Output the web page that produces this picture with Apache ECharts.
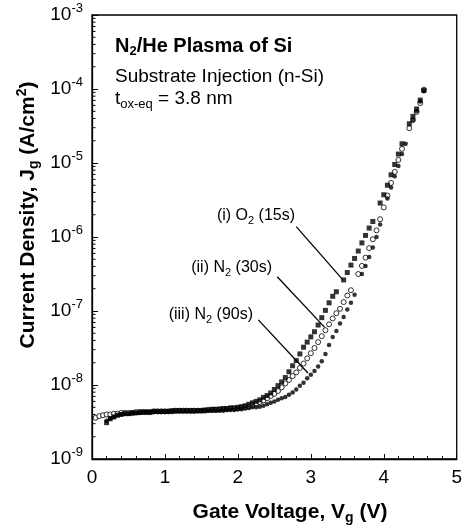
<!DOCTYPE html>
<html><head><meta charset="utf-8">
<script src="https://cdn.jsdelivr.net/npm/echarts@6/dist/echarts.min.js"></script>
<style>html,body{margin:0;padding:0;background:#fff}#c{width:465px;height:526px}</style>
</head><body><div id="c"></div>
<script>
// (i) O2 (15s) - filled squares
const o2V = [0.20,0.25,0.30,0.35,0.40,0.45,0.50,0.55,0.60,0.65,0.70,0.75,0.80,0.85,0.90,0.95,1.00,1.05,1.10,1.15,1.20,1.25,1.30,1.35,1.40,1.45,1.50,1.55,1.60,1.65,1.70,1.75,1.80,1.85,1.90,1.95,2.00,2.05,2.10,2.15,2.20,2.25,2.30,2.35,2.40,2.45,2.50,2.55,2.60,2.65,2.70,2.75,2.80,2.85,2.90,2.95,3.00,3.05,3.10,3.15,3.20,3.25,3.30,3.35,3.45,3.50,3.55,3.60,3.65,3.70,3.75,3.80,3.85,3.95,4.00,4.05,4.10,4.15,4.20,4.25,4.35,4.40,4.45,4.50,4.55];
const o2J = [3.1e-9,3.5e-9,3.7e-9,3.9e-9,4.0e-9,4.1e-9,4.1e-9,4.2e-9,4.2e-9,4.3e-9,4.3e-9,4.3e-9,4.3e-9,4.4e-9,4.4e-9,4.4e-9,4.4e-9,4.4e-9,4.5e-9,4.5e-9,4.5e-9,4.5e-9,4.5e-9,4.5e-9,4.5e-9,4.5e-9,4.5e-9,4.6e-9,4.6e-9,4.7e-9,4.7e-9,4.7e-9,4.8e-9,4.8e-9,4.9e-9,4.9e-9,5.0e-9,5.1e-9,5.25e-9,5.5e-9,5.75e-9,6.0e-9,6.3e-9,6.8e-9,7.2e-9,7.8e-9,8.7e-9,9.8e-9,1.10e-8,1.26e-8,1.51e-8,1.82e-8,2.14e-8,2.63e-8,3.24e-8,3.80e-8,4.47e-8,5.25e-8,6.46e-8,8.13e-8,1.02e-7,1.29e-7,1.58e-7,1.82e-7,2.63e-7,3.31e-7,4.17e-7,5.13e-7,6.46e-7,8.32e-7,1.05e-6,1.32e-6,1.62e-6,2.88e-6,3.72e-6,5.01e-6,6.92e-6,9.55e-6,1.32e-5,1.82e-5,3.39e-5,4.27e-5,5.37e-5,7.08e-5,9.55e-5];
// (ii) N2 (30s) - open circles
const n30V = [0.05,0.10,0.15,0.20,0.25,0.30,0.35,0.40,0.45,0.50,0.55,0.60,0.65,0.70,0.75,0.80,0.85,0.90,0.95,1.00,1.05,1.10,1.15,1.20,1.25,1.30,1.35,1.40,1.45,1.50,1.55,1.60,1.65,1.70,1.75,1.80,1.85,1.90,1.95,2.00,2.05,2.10,2.15,2.20,2.25,2.30,2.35,2.40,2.45,2.50,2.55,2.60,2.65,2.70,2.75,2.80,2.85,2.90,2.95,3.00,3.05,3.10,3.15,3.20,3.25,3.30,3.35,3.40,3.45,3.50,3.55,3.65,3.70,3.75,3.80,3.85,3.90,3.95,4.00,4.05,4.10,4.15,4.20,4.25,4.35,4.40,4.45,4.50,4.55];
const n30J = [3.6e-9,3.8e-9,3.9e-9,4.0e-9,4.0e-9,4.1e-9,4.1e-9,4.2e-9,4.2e-9,4.2e-9,4.2e-9,4.3e-9,4.3e-9,4.3e-9,4.3e-9,4.3e-9,4.4e-9,4.4e-9,4.4e-9,4.4e-9,4.4e-9,4.4e-9,4.5e-9,4.5e-9,4.5e-9,4.5e-9,4.5e-9,4.5e-9,4.5e-9,4.5e-9,4.5e-9,4.6e-9,4.6e-9,4.6e-9,4.7e-9,4.7e-9,4.7e-9,4.8e-9,4.8e-9,4.8e-9,4.9e-9,5.0e-9,5.1e-9,5.4e-9,5.6e-9,5.9e-9,6.2e-9,6.6e-9,7.1e-9,7.6e-9,8.3e-9,9.3e-9,1.05e-8,1.17e-8,1.32e-8,1.48e-8,1.70e-8,1.95e-8,2.29e-8,2.69e-8,3.16e-8,3.80e-8,4.57e-8,5.50e-8,6.61e-8,7.94e-8,9.33e-8,1.07e-7,1.32e-7,1.62e-7,1.91e-7,3.16e-7,4.07e-7,5.25e-7,7.08e-7,9.33e-7,1.23e-6,1.74e-6,2.51e-6,3.63e-6,5.37e-6,7.59e-6,1.10e-5,1.55e-5,2.95e-5,3.80e-5,4.90e-5,6.46e-5,9.8e-5];
// (iii) N2 (90s) - small filled circles
const n90V = [0.20,0.25,0.30,0.35,0.40,0.45,0.50,0.55,0.60,0.65,0.70,0.75,0.80,0.85,0.90,0.95,1.00,1.05,1.10,1.15,1.20,1.25,1.30,1.35,1.40,1.45,1.50,1.55,1.60,1.65,1.70,1.75,1.80,1.85,1.90,1.95,2.00,2.05,2.10,2.15,2.20,2.25,2.30,2.35,2.40,2.45,2.50,2.55,2.60,2.65,2.70,2.75,2.80,2.85,2.90,2.95,3.00,3.05,3.10,3.15,3.20,3.25,3.30,3.35,3.40,3.45,3.50,3.55,3.60,3.70,3.75,3.80,3.85,3.90,3.95,4.05,4.10,4.15,4.20,4.25,4.30,4.40,4.45,4.50,4.55];
const n90J = [3.3e-9,3.5e-9,3.7e-9,3.9e-9,4.0e-9,4.1e-9,4.1e-9,4.2e-9,4.2e-9,4.2e-9,4.3e-9,4.3e-9,4.3e-9,4.3e-9,4.3e-9,4.3e-9,4.3e-9,4.4e-9,4.4e-9,4.4e-9,4.4e-9,4.4e-9,4.4e-9,4.4e-9,4.4e-9,4.5e-9,4.5e-9,4.5e-9,4.5e-9,4.5e-9,4.5e-9,4.5e-9,4.5e-9,4.6e-9,4.6e-9,4.6e-9,4.7e-9,4.7e-9,4.8e-9,4.9e-9,5.0e-9,5.0e-9,5.1e-9,5.25e-9,5.5e-9,5.75e-9,6.0e-9,6.3e-9,6.6e-9,6.9e-9,7.4e-9,7.9e-9,8.7e-9,9.8e-9,1.07e-8,1.23e-8,1.38e-8,1.55e-8,1.78e-8,2.09e-8,2.63e-8,3.47e-8,4.47e-8,5.37e-8,6.76e-8,8.32e-8,1.05e-7,1.29e-7,1.66e-7,3.16e-7,4.07e-7,5.37e-7,7.24e-7,1.00e-6,1.48e-6,3.31e-6,4.68e-6,6.61e-6,9.12e-6,1.32e-5,1.82e-5,3.80e-5,5.01e-5,6.76e-5,9.33e-5];

const xTicks = [0,1,2,3,4,5];
const yExponents = [-9,-8,-7,-6,-5,-4,-3];

const FONT = "'Liberation Sans', Arial, Helvetica, sans-serif";
const chart = echarts.init(document.getElementById('c'));
const pairs = (V, J) => V.map((v, i) => [v, J[i]]);

// log minor tick positions (2..9 x 10^n)
const minorVals = [];
for (let e = -9; e < -3; e++) for (let k = 2; k <= 9; k++) minorVals.push([0, k * Math.pow(10, e)]);

const option = {
  animation: false,
  grid: {left: 92, right: 5, top: 15, bottom: 67, show: true, borderColor: '#000', borderWidth: 1.3, backgroundColor: 'transparent'},
  xAxis: {
    type: 'value', min: 0, max: 5, interval: 1,
    axisLine: {lineStyle: {color: '#000', width: 1.3}},
    axisTick: {inside: true, length: 5, lineStyle: {color: '#000', width: 1}},
    minorTick: {show: true, splitNumber: 5, length: 3, lineStyle: {color: '#000', width: 1}},
    splitLine: {show: false},
    axisLabel: {color: '#000', fontSize: 19, fontFamily: FONT, margin: 9,
      formatter: v => xTicks.indexOf(v) >= 0 ? String(v) : ''}
  },
  yAxis: {
    type: 'log', logBase: 10, min: 1e-9, max: 1e-3, splitNumber: 6,
    axisLine: {show: true, lineStyle: {color: '#000', width: 1.3}},
    axisTick: {show: true, inside: true, length: 6, lineStyle: {color: '#000', width: 1}},
    splitLine: {show: false},
    axisLabel: {
      margin: 9,
      formatter: v => {
        const e = Math.round(Math.log10(v));
        return yExponents.indexOf(e) >= 0 ? '{b|10}{s|' + e + '}' : '';
      },
      rich: {
        b: {fontSize: 19, fontFamily: FONT, color: '#000', lineHeight: 26},
        s: {fontSize: 13, fontFamily: FONT, color: '#000', verticalAlign: 'top', lineHeight: 13}
      }
    }
  },
  series: [
    {
      type: 'custom', silent: true, clip: false, z: 3,
      data: minorVals,
      renderItem: (params, api) => {
        const p = api.coord([0, api.value(1)]);
        return {type: 'line', shape: {x1: p[0], y1: p[1], x2: p[0] + 3.5, y2: p[1]}, style: {stroke: '#000', lineWidth: 1}};
      }
    },
    {
      name: '(ii) N2 (30s)', type: 'scatter', data: pairs(n30V, n30J),
      symbol: 'circle', symbolSize: 5,
      itemStyle: {color: '#fff', borderColor: '#000', borderWidth: 1}, z: 4
    },
    {
      name: '(i) O2 (15s)', type: 'scatter', data: pairs(o2V, o2J),
      symbol: 'rect', symbolSize: 5,
      itemStyle: {color: '#000'}, z: 5,
      markLine: {
        silent: true, symbol: 'none', animation: false,
        label: {show: false},
        lineStyle: {color: '#000', width: 1.3, type: 'solid'},
        data: [
          [{coord: [2.80, 1.38e-6]}, {coord: [3.44, 2.63e-7]}],
          [{coord: [2.54, 2.9e-7]}, {coord: [3.19, 6.0e-8]}],
          [{coord: [2.28, 7.6e-8]}, {coord: [2.96, 1.45e-8]}]
        ]
      }
    },
    {
      name: '(iii) N2 (90s)', type: 'scatter', data: pairs(n90V, n90J),
      symbol: 'circle', symbolSize: 4.5,
      itemStyle: {color: '#000'}, z: 6
    }
  ],
  graphic: [
    {type: 'text', left: 115, top: 36, style: {text: '{b|N}{bs|2}{b|/He Plasma of Si}', rich: {
      b: {fontSize: 20, fontWeight: 'bold', fontFamily: FONT, fill: '#000', lineHeight: 24},
      bs: {fontSize: 13, fontWeight: 'bold', fontFamily: FONT, fill: '#000', verticalAlign: 'bottom', lineHeight: 13}}}},
    {type: 'text', left: 115, top: 67, style: {text: 'Substrate Injection (n-Si)', fontSize: 19, fontFamily: FONT, fill: '#000'}},
    {type: 'text', left: 115, top: 89, style: {text: '{b|t}{s|ox-eq}{b| = 3.8 nm}', rich: {
      b: {fontSize: 19, fontFamily: FONT, fill: '#000', lineHeight: 24},
      s: {fontSize: 13, fontFamily: FONT, fill: '#000', verticalAlign: 'bottom', lineHeight: 13}}}},
    {type: 'text', right: 465 - 295, top: 208, style: {text: '{b|(i) O}{s|2}{b| (15s)}', rich: {
      b: {fontSize: 16, fontFamily: FONT, fill: '#000', lineHeight: 20},
      s: {fontSize: 11, fontFamily: FONT, fill: '#000', verticalAlign: 'bottom', lineHeight: 11}}}},
    {type: 'text', right: 465 - 272, top: 260, style: {text: '{b|(ii) N}{s|2}{b| (30s)}', rich: {
      b: {fontSize: 16, fontFamily: FONT, fill: '#000', lineHeight: 20},
      s: {fontSize: 11, fontFamily: FONT, fill: '#000', verticalAlign: 'bottom', lineHeight: 11}}}},
    {type: 'text', right: 465 - 253, top: 307, style: {text: '{b|(iii) N}{s|2}{b| (90s)}', rich: {
      b: {fontSize: 16, fontFamily: FONT, fill: '#000', lineHeight: 20},
      s: {fontSize: 11, fontFamily: FONT, fill: '#000', verticalAlign: 'bottom', lineHeight: 11}}}},
    {type: 'text', x: 290, y: 512, style: {text: '{b|Gate Voltage, V}{s|g}{b| (V)}', align: 'center', verticalAlign: 'middle', rich: {
      b: {fontSize: 21, fontWeight: 'bold', fontFamily: FONT, fill: '#000', lineHeight: 26},
      s: {fontSize: 14, fontWeight: 'bold', fontFamily: FONT, fill: '#000', verticalAlign: 'bottom', lineHeight: 14}}}},
    {type: 'text', x: 28, y: 215, rotation: Math.PI / 2, style: {text: '{b|Current Density, J}{s|g}{b| (A/cm}{p|2}{b|)}', align: 'center', verticalAlign: 'middle', rich: {
      b: {fontSize: 21, fontWeight: 'bold', fontFamily: FONT, fill: '#000', lineHeight: 26},
      s: {fontSize: 14, fontWeight: 'bold', fontFamily: FONT, fill: '#000', verticalAlign: 'bottom', lineHeight: 14},
      p: {fontSize: 14, fontWeight: 'bold', fontFamily: FONT, fill: '#000', verticalAlign: 'top', lineHeight: 14}}}}
  ]
};
chart.setOption(option);
</script>
</body></html>
